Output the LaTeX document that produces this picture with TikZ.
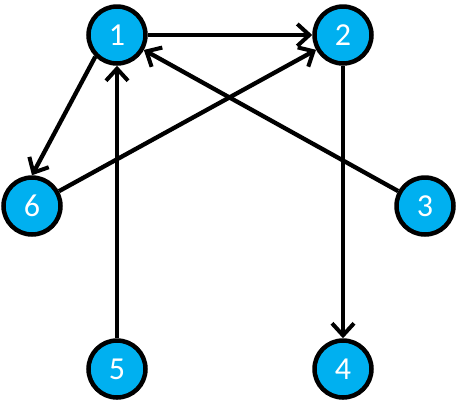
\documentclass[tikz,border=0pt]{standalone}
\usepackage{fontspec}
\setmainfont{Carlito}
\usetikzlibrary{arrows.meta}
\definecolor{vxfill}{HTML}{00B0F0}

\begin{document}
\begin{tikzpicture}[x=1pt, y=-1pt,
    vertex/.style={circle, fill=vxfill, draw=black, line width=4.5pt,
      minimum size=57pt, inner sep=0pt, text=white,
      font=\fontsize{32}{32}\selectfont},
    edge/.style={line width=4.3pt, -{Straight Barb[length=12pt, width=22pt, line width=4pt]}}]
  \useasboundingbox (0,0) rectangle (457,413);
  \node[vertex] (n1) at (117,35) {1};
  \node[vertex] (n2) at (343,35) {2};
  \node[vertex] (n6) at (32,206) {6};
  \node[vertex] (n3) at (425,206) {3};
  \node[vertex] (n5) at (117,369) {5};
  \node[vertex] (n4) at (343,369) {4};
  \draw[edge] (n1) -- (n2);
  \draw[edge] (n1.south west) -- (n6.north);
  \draw[edge] (n6) -- (n2);
  \draw[edge] (n3) -- (n1);
  \draw[edge] (n5) -- (n1);
  \draw[edge] (n2) -- (n4);
\end{tikzpicture}
\end{document}
